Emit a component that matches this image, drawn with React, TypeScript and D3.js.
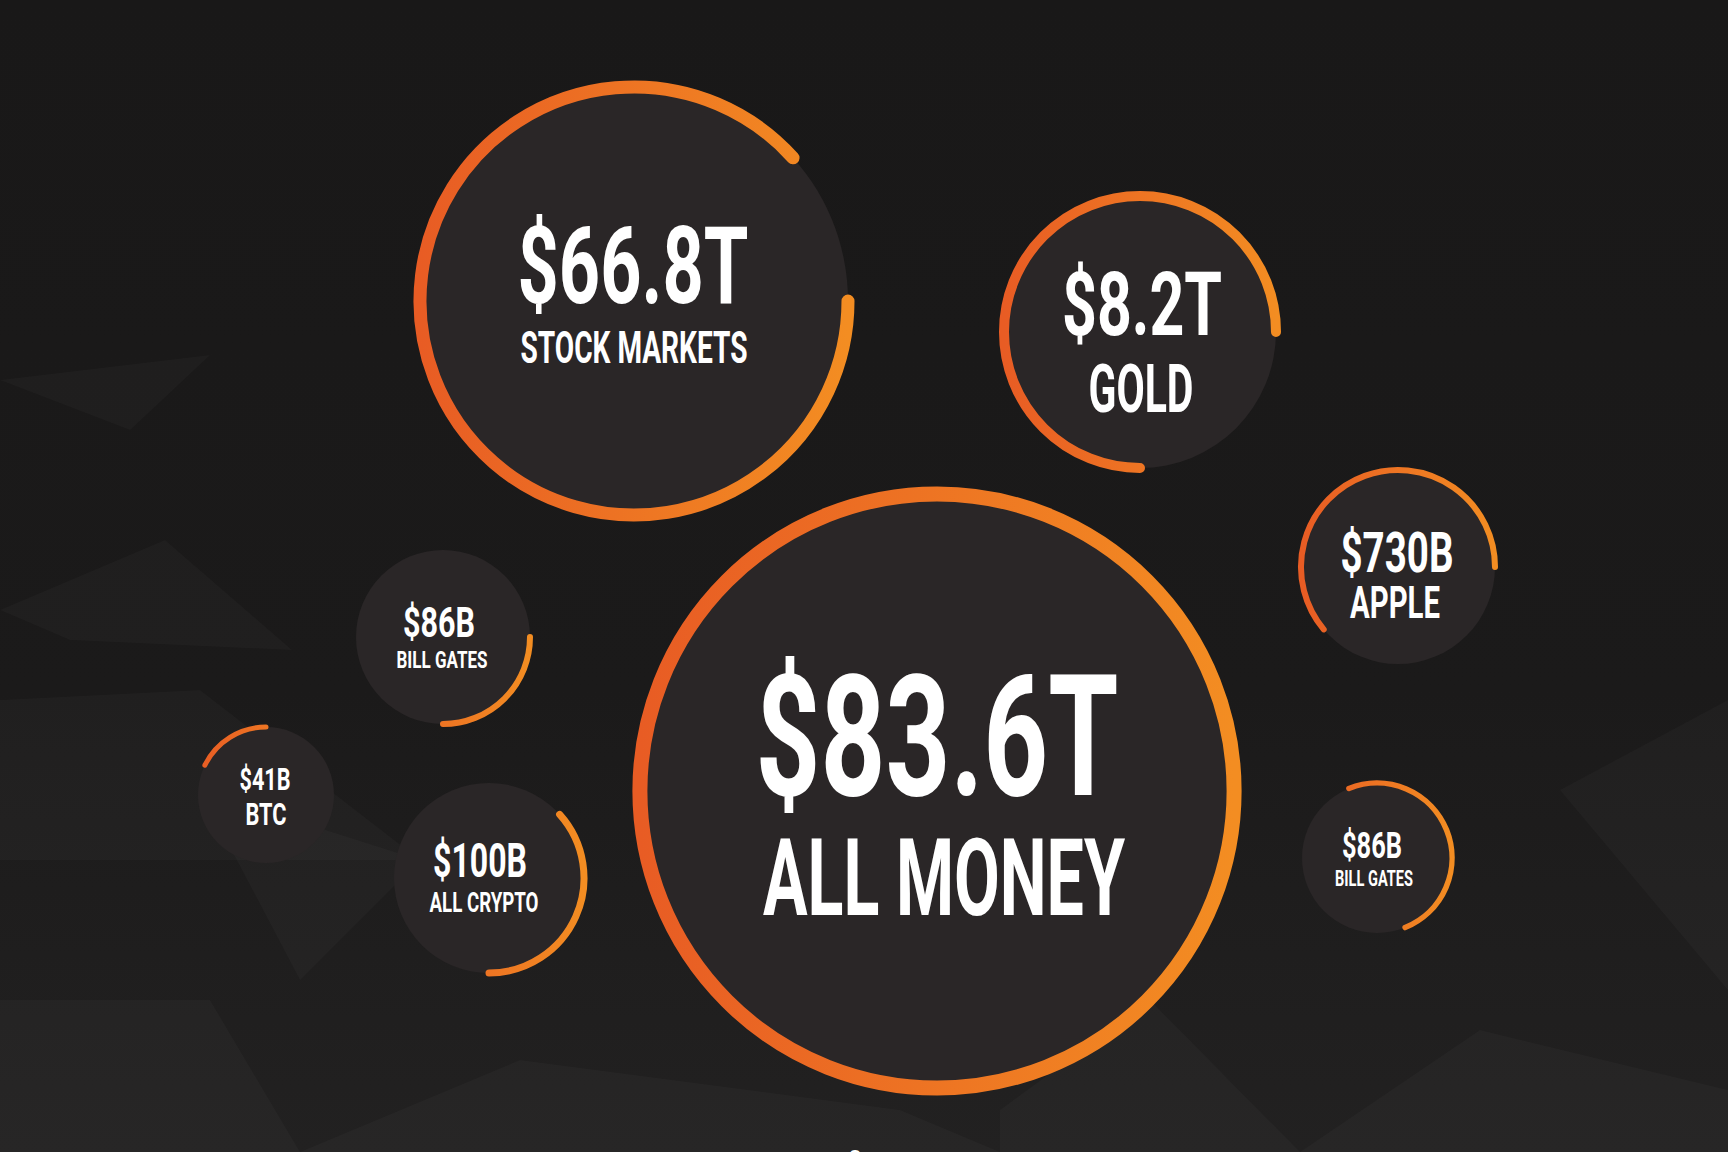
import React, { useRef, useEffect } from 'react';
import * as d3 from 'd3';

// values
const LABELS = ['ALL MONEY', 'STOCK MARKETS', 'GOLD', 'APPLE', 'BILL GATES', 'ALL CRYPTO', 'BILL GATES', 'BTC'];
const VALUES = ['$83.6T', '$66.8T', '$8.2T', '$730B', '$86B', '$100B', '$86B', '$41B'];
// ring extent, degrees clockwise from 12 o'clock
const ARC_START = [0, 90, 180, 230, -22, 48, 90, -64];
const ARC_END = [360, 408, 450, 450, 158, 180, 180, 0];

// bubble layout (px in a 1728x1152 canvas)
const LAYOUT = [
  { cx: 937, cy: 791, r: 297, sw: 15, vx: 937, vy: 795, vs: 169, vw: 363, lx: 944, ly: 915, ls: 107, lw: 362 },
  { cx: 634, cy: 301, r: 214, sw: 13, vx: 633, vy: 303, vs: 108, vw: 231, lx: 634, ly: 363, ls: 44, lw: 227 },
  { cx: 1140, cy: 332, r: 136, sw: 10, vx: 1142, vy: 335, vs: 89, vw: 160, lx: 1141, ly: 412, ls: 66, lw: 105 },
  { cx: 1398, cy: 567, r: 97, sw: 6, vx: 1397, vy: 572, vs: 56, vw: 113, lx: 1395, ly: 618, ls: 44, lw: 90 },
  { cx: 1377, cy: 858, r: 75, sw: 5.5, vx: 1372, vy: 858, vs: 37, vw: 60, lx: 1374, ly: 886, ls: 22.5, lw: 78 },
  { cx: 489, cy: 878, r: 95, sw: 7, vx: 480, vy: 877, vs: 48, vw: 94, lx: 484, ly: 912, ls: 27, lw: 109 },
  { cx: 443, cy: 637, r: 87, sw: 6, vx: 439, vy: 637, vs: 42, vw: 72, lx: 442, ly: 668, ls: 24, lw: 91 },
  { cx: 266, cy: 795, r: 68, sw: 5, vx: 265, vy: 790, vs: 32, vw: 51, lx: 266, ly: 825, ls: 32, lw: 41 },
];

// faint low-poly shapes in the backdrop
const SHARDS: [number, number][][] = [
  [[0, 610], [165, 540], [292, 650], [70, 640]],
  [[0, 700], [200, 690], [420, 860], [0, 860]],
  [[200, 790], [420, 860], [300, 980]],
  [[0, 1000], [210, 1000], [300, 1152], [0, 1152]],
  [[300, 1152], [520, 1060], [900, 1110], [1000, 1152]],
  [[1000, 1110], [1150, 1000], [1300, 1152], [1000, 1152]],
  [[1560, 790], [1728, 700], [1728, 990]],
  [[1300, 1152], [1480, 1030], [1728, 1090], [1728, 1152]],
  [[0, 380], [210, 355], [130, 430]],
];

const W = 1728;
const H = 1152;

export default function App() {
  const svgRef = useRef<SVGSVGElement>(null);

  useEffect(() => {
    document.body.style.margin = '0';
    document.body.style.background = '#1a1919';
    const svg = d3.select(svgRef.current);
    svg.selectAll('*').remove();
    if (!svgRef.current) return;

    const defs = svg.append('defs');
    const bg = defs.append('linearGradient').attr('id', 'bg').attr('x1', 0).attr('y1', 0).attr('x2', 0).attr('y2', 1);
    bg.append('stop').attr('offset', 0).attr('stop-color', '#191818');
    bg.append('stop').attr('offset', 0.6).attr('stop-color', '#1b1a1a');
    bg.append('stop').attr('offset', 1).attr('stop-color', '#222121');

    svg.append('rect').attr('width', W).attr('height', H).attr('fill', 'url(#bg)');

    svg.append('g').selectAll('polygon').data(SHARDS).enter()
      .append('polygon')
      .attr('points', (d) => d.map((p) => p.join(',')).join(' '))
      .attr('fill', '#ffffff').attr('fill-opacity', 0.025);

    const deg = d3.scaleLinear().domain([0, 360]).range([-Math.PI / 2, (3 * Math.PI) / 2]);

    const items = LABELS.map((label, i) => ({
      label, value: VALUES[i], a0: ARC_START[i], a1: ARC_END[i], ...LAYOUT[i], i,
    }));

    // one horizontal gradient per bubble, red-orange on the left to orange on the right
    items.forEach((d) => {
      const g = defs.append('linearGradient').attr('id', `ring${d.i}`)
        .attr('gradientUnits', 'userSpaceOnUse')
        .attr('x1', d.cx - d.r).attr('y1', 0).attr('x2', d.cx + d.r).attr('y2', 0);
      g.append('stop').attr('offset', 0).attr('stop-color', '#e85c24');
      g.append('stop').attr('offset', 1).attr('stop-color', '#f38d22');
    });

    const bubbles = svg.append('g').selectAll('g').data(items).enter().append('g');

    bubbles.append('circle')
      .attr('cx', (d) => d.cx).attr('cy', (d) => d.cy).attr('r', (d) => d.r)
      .attr('fill', '#2a2627');

    bubbles.append('path')
      .attr('d', (d) => {
        const p = d3.path();
        const s = deg(d.a0);
        const e = deg(d.a1);
        p.moveTo(d.cx + d.r * Math.cos(s), d.cy + d.r * Math.sin(s));
        p.arc(d.cx, d.cy, d.r, s, e, false);
        return p.toString();
      })
      .attr('fill', 'none')
      .attr('stroke', (d) => `url(#ring${d.i})`)
      .attr('stroke-width', (d) => d.sw)
      .attr('stroke-linecap', (d) => (d.a1 - d.a0 >= 360 ? 'butt' : 'round'));

    const font = 'Roboto, "Noto Sans", sans-serif';

    bubbles.append('text')
      .attr('x', (d) => d.vx).attr('y', (d) => d.vy)
      .attr('text-anchor', 'middle')
      .attr('font-family', font).attr('font-weight', 700)
      .attr('font-size', (d) => d.vs)
      .attr('textLength', (d) => d.vw).attr('lengthAdjust', 'spacingAndGlyphs')
      .attr('fill', '#ffffff')
      .text((d) => d.value);

    bubbles.append('text')
      .attr('x', (d) => d.lx).attr('y', (d) => d.ly)
      .attr('text-anchor', 'middle')
      .attr('font-family', font).attr('font-weight', 700)
      .attr('font-size', (d) => d.ls)
      .attr('textLength', (d) => d.lw).attr('lengthAdjust', 'spacingAndGlyphs')
      .attr('fill', '#ffffff')
      .text((d) => d.label);

    // clipped glyph peeking in at the bottom edge
    svg.append('text')
      .attr('x', 855).attr('y', 1166)
      .attr('text-anchor', 'middle')
      .attr('font-family', font).attr('font-weight', 700).attr('font-size', 22)
      .attr('fill', '#ffffff')
      .text('8');
  }, []);

  return <svg ref={svgRef} width={W} height={H} style={{ display: 'block' }} />;
}
